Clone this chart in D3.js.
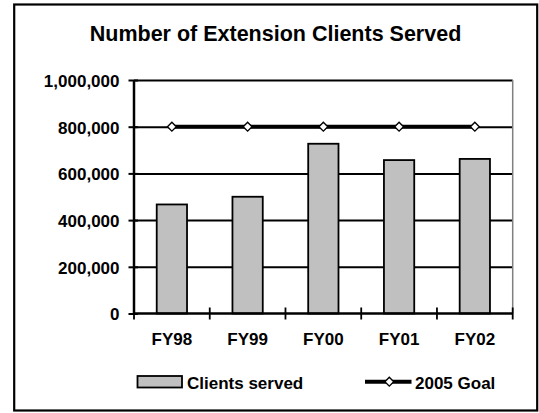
<!DOCTYPE html>
<html>
<head>
<meta charset="utf-8">
<script src="https://cdn.jsdelivr.net/npm/d3@7"></script>
<style>
  body { margin: 0; background: #fff; }
  text { font-family: "Liberation Sans", Arial, sans-serif; font-weight: bold; fill: #000; }
</style>
</head>
<body>
<script>
// data
var categories = ["FY98", "FY99", "FY00", "FY01", "FY02"];
var clientsServed = [467000, 500000, 727000, 657000, 662000];
var goal2005 = [800000, 800000, 800000, 800000, 800000];
var yTicks = [0, 200000, 400000, 600000, 800000, 1000000];

var W = 539, H = 413;
var plot = { left: 134, right: 512.7, top: 80, bottom: 313.5 };

var svg = d3.select("body").append("svg")
    .attr("width", W)
    .attr("height", H);

// chart border
svg.append("rect")
    .attr("x", 14.2).attr("y", 4.5)
    .attr("width", 523).attr("height", 406)
    .attr("fill", "#fff")
    .attr("stroke", "#000")
    .attr("stroke-width", 2.2);

// title
svg.append("text")
    .attr("x", 275.5).attr("y", 41)
    .attr("text-anchor", "middle")
    .style("font-size", "21.5px")
    .text("Number of Extension Clients Served");

var x = d3.scaleBand()
    .domain(categories)
    .range([plot.left, plot.right])
    .paddingInner(0.6)
    .paddingOuter(0.3);

var y = d3.scaleLinear()
    .domain([0, 1000000])
    .range([plot.bottom, plot.top]);

// gridlines
svg.append("g")
    .attr("transform", "translate(" + plot.left + ",0)")
    .call(d3.axisLeft(y).tickValues(yTicks.slice(1)).tickSize(-(plot.right - plot.left)).tickFormat(""))
    .call(function(g) {
      g.select(".domain").remove();
      g.selectAll("line").attr("stroke", "#000").attr("stroke-width", 2);
    });

// plot area right edge
svg.append("line")
    .attr("x1", plot.right).attr("x2", plot.right)
    .attr("y1", plot.top).attr("y2", plot.bottom)
    .attr("stroke", "#808080").attr("stroke-width", 1.5);

// bars
svg.selectAll(".bar")
    .data(clientsServed)
    .enter().append("rect")
    .attr("class", "bar")
    .attr("x", function(d, i) { return x(categories[i]); })
    .attr("y", function(d) { return y(d); })
    .attr("width", x.bandwidth())
    .attr("height", function(d) { return y(0) - y(d); })
    .attr("fill", "#c0c0c0")
    .attr("stroke", "#000")
    .attr("stroke-width", 1.8);

// y axis
svg.append("g")
    .attr("transform", "translate(" + plot.left + ",0)")
    .call(d3.axisLeft(y).tickValues(yTicks).tickSize(5.5).tickPadding(9).tickFormat(d3.format(",")))
    .call(function(g) {
      g.select(".domain").attr("stroke", "#000").attr("stroke-width", 2.5)
        .attr("d", "M0," + plot.top + "V" + plot.bottom);
      g.selectAll("line").attr("x1", 4).attr("x2", -5.5).attr("stroke", "#000").attr("stroke-width", 2);
      g.selectAll("text").attr("dy", "0.38em").style("font-size", "17px").attr("font-family", null);
    });

// x axis
svg.append("g")
    .attr("transform", "translate(0," + plot.bottom + ")")
    .call(d3.axisBottom(x).tickSize(0).tickPadding(0))
    .call(function(g) {
      g.select(".domain").attr("stroke", "#000").attr("stroke-width", 2.5)
        .attr("d", "M" + plot.left + ",0H" + plot.right);
      g.selectAll("text").attr("y", 31.5).attr("dy", null).style("font-size", "17px").attr("font-family", null);
    });

// category boundary ticks
var bounds = d3.range(categories.length + 1).map(function(i) { return plot.left + i * x.step(); });
svg.append("g").selectAll("line")
    .data(bounds)
    .enter().append("line")
    .attr("x1", function(d) { return d; }).attr("x2", function(d) { return d; })
    .attr("y1", plot.bottom - 6).attr("y2", plot.bottom + 6)
    .attr("stroke", "#000").attr("stroke-width", 1.8);

// goal line
var line = d3.line()
    .x(function(d, i) { return x(categories[i]) + x.bandwidth() / 2; })
    .y(function(d) { return y(d); });

svg.append("path")
    .datum(goal2005)
    .attr("d", line)
    .attr("fill", "none")
    .attr("stroke", "#000")
    .attr("stroke-width", 4);

var diamond = d3.symbol().type(d3.symbolDiamond2).size(50);

svg.selectAll(".marker")
    .data(goal2005)
    .enter().append("path")
    .attr("class", "marker")
    .attr("transform", function(d, i) {
      return "translate(" + (x(categories[i]) + x.bandwidth() / 2) + "," + y(d) + ")";
    })
    .attr("d", diamond)
    .attr("fill", "#fff")
    .attr("stroke", "#000")
    .attr("stroke-width", 1.4);

// legend
var legend = svg.append("g");
legend.append("rect")
    .attr("x", 137.5).attr("y", 376)
    .attr("width", 44.5).attr("height", 11.5)
    .attr("fill", "#c0c0c0")
    .attr("stroke", "#000")
    .attr("stroke-width", 1.8);
legend.append("text")
    .attr("x", 187).attr("y", 388.5)
    .style("font-size", "17px")
    .text("Clients served");

legend.append("line")
    .attr("x1", 365).attr("x2", 411.5)
    .attr("y1", 381.7).attr("y2", 381.7)
    .attr("stroke", "#000").attr("stroke-width", 4);
legend.append("path")
    .attr("transform", "translate(389.3,381.7)")
    .attr("d", diamond)
    .attr("fill", "#fff")
    .attr("stroke", "#000")
    .attr("stroke-width", 1.4);
legend.append("text")
    .attr("x", 415).attr("y", 388.5)
    .style("font-size", "17px")
    .text("2005 Goal");
</script>
</body>
</html>
